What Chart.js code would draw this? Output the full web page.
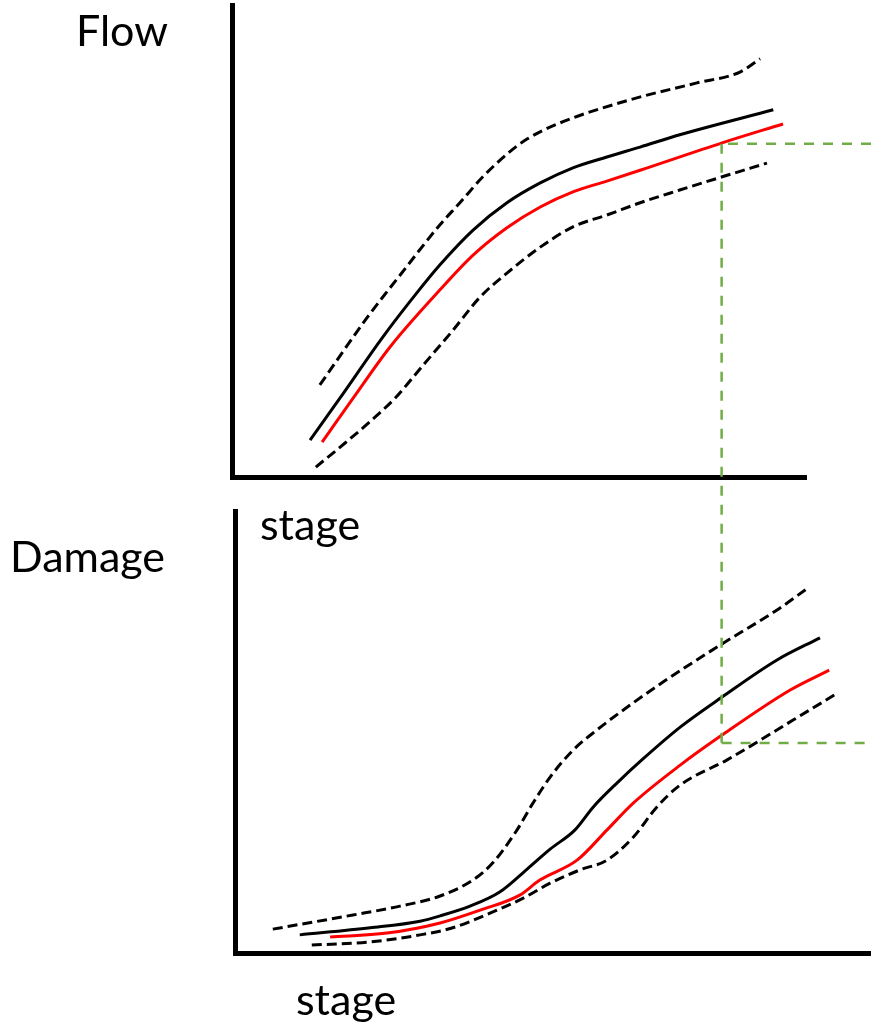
<!DOCTYPE html>
<html>
<head>
<meta charset="utf-8">
<script src="https://cdn.jsdelivr.net/npm/chart.js@4.4.1/dist/chart.umd.min.js"></script>
<style>
  html, body { margin: 0; padding: 0; background: #fff; }
  #wrap { position: relative; width: 871px; height: 1030px; }
  #wrap canvas { position: absolute; left: 0; top: 0; }
</style>
</head>
<body>
<div id="wrap">
  <canvas id="flowChart" width="871" height="1030"></canvas>
  <canvas id="damageChart" width="871" height="1030"></canvas>
</div>
<script>
// stage is on x for both panels (same units)
const flowUpper = [[15.3, 19.5], [23.5, 33.7], [29.3, 42.8], [36.2, 53.4], [39.7, 58.1], [43.7, 63.6], [47.9, 68.4], [51.4, 71.6], [57.1, 75.0], [69.3, 79.9], [81.0, 83.5], [88.5, 85.8], [92.0, 88.6]];
const flowMean = [[13.6, 7.8], [18.8, 16.7], [26.3, 29.7], [32.2, 39.0], [36.2, 44.9], [42.0, 52.3], [47.9, 58.1], [53.7, 62.3], [59.4, 65.5], [65.3, 67.8], [71.1, 69.9], [78.0, 72.5], [94.3, 77.8]];
const flowBest = [[15.7, 7.4], [21.1, 16.7], [27.5, 27.5], [36.2, 39.6], [42.0, 47.0], [47.9, 52.8], [53.7, 57.2], [59.4, 60.4], [65.3, 62.7], [71.1, 65.0], [85.4, 70.8], [96.0, 74.8]];
const flowLower = [[14.6, 2.1], [19.7, 7.2], [24.0, 11.7], [28.4, 16.7], [33.3, 23.7], [38.5, 31.1], [43.2, 38.1], [47.9, 43.2], [53.7, 48.7], [59.4, 53.0], [65.3, 55.5], [71.1, 58.1], [78.0, 60.8], [85.4, 63.6], [93.2, 66.5]];

const damageUpper = [[6.6, 5.4], [20.6, 8.6], [28.8, 10.6], [35.8, 12.9], [41.5, 16.5], [45.0, 20.4], [49.2, 27.8], [52.0, 33.9], [55.0, 39.8], [59.0, 45.9], [63.2, 50.5], [69.5, 56.6], [74.7, 61.3], [85.2, 70.1], [94.6, 77.6], [100.0, 82.6]];
const damageMean = [[11.3, 4.1], [23.6, 5.7], [32.3, 7.2], [35.8, 8.4], [41.0, 10.6], [46.2, 13.8], [51.0, 19.0], [55.0, 23.5], [59.3, 27.8], [62.5, 33.0], [66.7, 38.5], [71.2, 43.9], [77.7, 51.1], [85.0, 57.9], [94.6, 66.3], [102.1, 71.3]];
const damageBest = [[16.6, 3.6], [26.5, 4.5], [35.8, 6.8], [42.8, 9.7], [49.7, 13.1], [53.2, 16.5], [59.7, 21.0], [64.9, 27.8], [69.5, 33.9], [77.7, 42.5], [85.0, 49.3], [96.9, 59.5], [103.7, 64.0]];
const damageLower = [[13.4, 1.8], [23.6, 2.5], [32.3, 4.1], [38.0, 5.7], [44.5, 9.0], [50.3, 12.4], [55.0, 15.8], [60.2, 18.8], [64.9, 21.0], [69.5, 26.2], [73.6, 33.0], [77.7, 38.0], [85.9, 43.7], [97.4, 52.7], [104.9, 58.6]];

// the green read-across: stage -> flow -> damage
const guideStage = 85.3;
const guideFlow = 70.6;
const guideDamage = 47.5;

const flowStageMax = 100;
const damageStageMax = 111;

const toXY = pts => pts.map(p => ({ x: p[0], y: p[1] }));

function curve(pts, color, dashed) {
    return {
        data: toXY(pts),
        borderColor: color,
        borderWidth: 3,
        borderDash: dashed ? [10, 5] : [],
        pointRadius: 0,
        cubicInterpolationMode: "monotone",
        fill: false,
    };
}

function axisOpts(max) {
    return {
        type: "linear",
        min: 0,
        max: max,
        grid: { display: false, drawTicks: false },
        ticks: { display: false },
        border: { display: true, color: "#000", width: 5 },
    };
}

const panelLabels = {
    id: "panelLabels",
    afterDraw(chart, args, opts) {
        const ctx = chart.ctx;
        ctx.save();
        ctx.font = opts.font;
        ctx.fillStyle = "#000";
        ctx.textBaseline = "alphabetic";
        ctx.textAlign = "left";
        opts.items.forEach(it => ctx.fillText(it.text, it.x, it.y));
        ctx.restore();
    },
};

const labelFont = "43px Lato";

const flowChart = new Chart(document.getElementById("flowChart"), {
    type: "line",
    data: {
        datasets: [
            curve(flowUpper, "#000", true),
            curve(flowMean, "#000", false),
            curve(flowBest, "#ff0000", false),
            curve(flowLower, "#000", true),
        ],
    },
    options: {
        responsive: false,
        animation: false,
        events: [],
        layout: { padding: { left: 232, right: 65, top: 5, bottom: 553 } },
        scales: { x: axisOpts(flowStageMax), y: axisOpts(100) },
        plugins: {
            legend: { display: false },
            tooltip: { enabled: false },
            panelLabels: {
                font: labelFont,
                items: [
                    { text: "Flow", x: 76, y: 46 },
                    { text: "stage", x: 260, y: 540 },
                ],
            },
        },
    },
    plugins: [panelLabels],
});

const stageGuide = {
    id: "stageGuide",
    afterDatasetsDraw(chart) {
        const ctx = chart.ctx;
        const gx = flowChart.scales.x.getPixelForValue(guideStage);
        const yTop = flowChart.scales.y.getPixelForValue(guideFlow);
        const yBot = chart.scales.y.getPixelForValue(guideDamage);
        const xEnd = chart.scales.x.getPixelForValue(damageStageMax);
        ctx.save();
        ctx.strokeStyle = "#70ad47";
        ctx.lineWidth = 2.5;
        ctx.setLineDash([10, 9]);
        ctx.beginPath();
        ctx.moveTo(gx, yTop);
        ctx.lineTo(gx, yBot);
        ctx.moveTo(xEnd, yTop);
        ctx.lineTo(gx, yTop);
        ctx.moveTo(gx, yBot);
        ctx.lineTo(xEnd, yBot);
        ctx.stroke();
        ctx.restore();
    },
};

const damageChart = new Chart(document.getElementById("damageChart"), {
    type: "line",
    data: {
        datasets: [
            curve(damageUpper, "#000", true),
            curve(damageMean, "#000", false),
            curve(damageBest, "#ff0000", false),
            curve(damageLower, "#000", true),
        ],
    },
    options: {
        responsive: false,
        animation: false,
        events: [],
        layout: { padding: { left: 235, right: 0, top: 511, bottom: 77 } },
        scales: { x: axisOpts(damageStageMax), y: axisOpts(100) },
        plugins: {
            legend: { display: false },
            tooltip: { enabled: false },
            panelLabels: {
                font: labelFont,
                items: [
                    { text: "Damage", x: 10, y: 572 },
                    { text: "stage", x: 296, y: 1015 },
                ],
            },
        },
    },
    plugins: [panelLabels, stageGuide],
});
</script>
</body>
</html>
